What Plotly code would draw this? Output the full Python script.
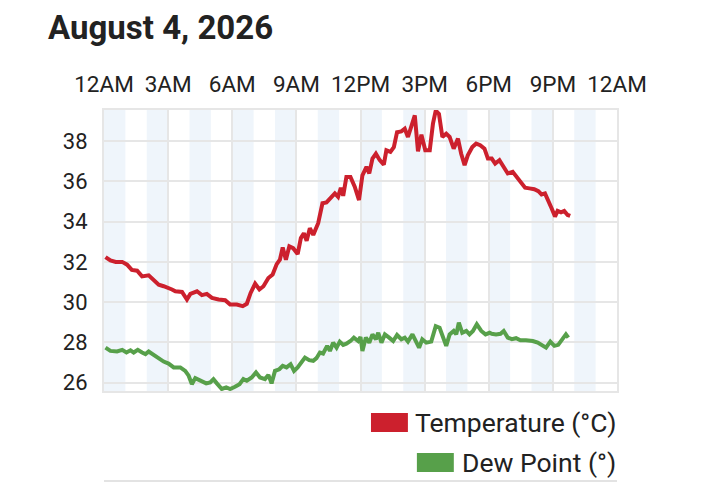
import plotly.graph_objects as go

# hours of the day (0 = midnight) and readings
temp_hours = [0.07, 0.30, 0.55, 0.85, 1.08, 1.30, 1.55, 1.78, 2.09, 2.32, 2.56, 2.79,
              3.02, 3.18, 3.34, 3.65, 3.88, 4.04, 4.35, 4.58, 4.81, 5.05, 5.36, 5.67,
              5.90, 6.21, 6.49, 6.68, 6.86, 7.07, 7.27, 7.46, 7.69, 7.89, 8.08, 8.23,
              8.36, 8.51, 8.67, 8.85, 9.06, 9.21, 9.35, 9.48, 9.63, 9.79, 10.02, 10.22,
              10.41, 10.61, 10.80, 10.95, 11.08, 11.19, 11.34, 11.53, 11.73, 11.93, 12.09,
              12.28, 12.41, 12.56, 12.72, 12.90, 13.09, 13.21, 13.40, 13.56, 13.71, 13.91,
              14.07, 14.22, 14.38, 14.54, 14.69, 14.85, 15.03, 15.24, 15.39, 15.52, 15.67,
              15.83, 16.01, 16.17, 16.36, 16.56, 16.71, 16.87, 17.02, 17.23, 17.41, 17.60,
              17.80, 17.96, 18.14, 18.30, 18.50, 18.70, 18.89, 19.12, 19.32, 19.51, 19.70,
              19.90, 20.13, 20.32, 20.47, 20.63, 20.79, 20.94, 21.10, 21.22, 21.38, 21.53,
              21.69, 21.81]
temperature = [32.24, 32.07, 32.00, 32.00, 31.86, 31.60, 31.56, 31.28, 31.33, 31.12, 30.87, 30.79,
               30.71, 30.63, 30.54, 30.51, 30.13, 30.41, 30.54, 30.35, 30.41, 30.21, 30.13, 30.10,
               29.88, 29.88, 29.80, 29.92, 30.46, 30.92, 30.63, 30.79, 31.20, 31.37, 31.89, 32.11,
               32.72, 32.11, 32.77, 32.68, 32.39, 33.18, 33.42, 33.05, 33.67, 33.34, 33.92, 34.91,
               34.95, 35.15, 35.40, 35.23, 35.68, 35.28, 36.22, 36.22, 35.73, 35.07, 36.30,
               36.72, 36.39, 37.13, 37.37, 37.05, 36.83, 37.54, 37.46, 37.70, 38.44, 38.48,
               38.61, 38.20, 38.77, 39.27, 37.49, 38.31, 37.54, 37.54, 38.86, 39.51, 39.35,
               38.20, 38.36, 38.20, 37.62, 38.12, 37.37, 36.80, 37.29, 37.70, 37.87, 37.79,
               37.62, 37.13, 37.13, 36.88, 37.05, 36.72, 36.39, 36.47, 36.22, 35.94, 35.68,
               35.65, 35.61, 35.51, 35.35, 35.40, 35.07, 34.66, 34.25, 34.53, 34.46, 34.53,
               34.33, 34.28]

dew_hours = [0.07, 0.30, 0.61, 0.85, 1.05, 1.24, 1.39, 1.58, 1.78, 1.94, 2.09, 2.32,
             2.56, 2.79, 3.02, 3.26, 3.57, 3.80, 3.96, 4.11, 4.27, 4.50, 4.78, 4.97,
             5.12, 5.28, 5.51, 5.72, 5.90, 6.13, 6.34, 6.52, 6.68, 6.91, 7.11, 7.30,
             7.53, 7.69, 7.84, 8.00, 8.20, 8.36, 8.54, 8.73, 8.89, 9.06, 9.24, 9.40,
             9.60, 9.79, 9.94, 10.10, 10.25, 10.44, 10.57, 10.72, 10.88, 11.03, 11.19,
             11.34, 11.53, 11.69, 11.89, 12.00, 12.09, 12.25, 12.41, 12.56, 12.72, 12.83,
             12.98, 13.14, 13.34, 13.53, 13.71, 13.91, 14.07, 14.22, 14.43, 14.58, 14.74,
             14.89, 15.08, 15.31, 15.52, 15.70, 15.86, 16.01, 16.17, 16.36, 16.48, 16.60,
             16.76, 16.95, 17.10, 17.26, 17.44, 17.65, 17.85, 18.04, 18.14, 18.34, 18.55,
             18.70, 18.89, 19.08, 19.28, 19.48, 19.74, 20.06, 20.29, 20.47, 20.68, 20.88,
             21.07, 21.25, 21.45, 21.61, 21.72]
dew_point = [27.74, 27.58, 27.55, 27.63, 27.50, 27.61, 27.50, 27.63, 27.50, 27.42, 27.55, 27.38,
             27.22, 27.05, 26.95, 26.76, 26.76, 26.59, 26.35, 25.93, 26.23, 26.10, 25.97, 26.02,
             26.18, 25.97, 25.69, 25.77, 25.69, 25.80, 25.93, 26.18, 26.10, 26.26, 26.51, 26.26,
             26.18, 26.39, 25.97, 26.59, 26.67, 26.84, 26.76, 26.92, 26.59, 26.76, 27.00, 27.25,
             27.12, 27.09, 27.22, 27.50, 27.45, 27.83, 27.58, 27.99, 27.74, 28.04, 27.88,
             27.94, 28.07, 28.24, 28.07, 28.27, 27.58, 28.24, 27.99, 28.40, 28.16, 28.48,
             27.99, 28.40, 28.24, 28.07, 28.37, 28.16, 28.24, 28.04, 28.40, 28.07, 27.74,
             28.16, 27.99, 28.04, 28.81, 28.73, 28.32, 27.83, 28.40, 28.57, 28.40, 28.98,
             28.48, 28.57, 28.40, 28.57, 28.90, 28.57, 28.40, 28.48, 28.43, 28.40, 28.43,
             28.57, 28.24, 28.16, 28.21, 28.11, 28.11, 28.07, 27.99, 27.88, 27.74, 28.04,
             27.83, 27.88, 28.16, 28.40, 28.24]

tick_hours = [0, 3, 6, 9, 12, 15, 18, 21, 24]
tick_labels = ["12AM", "3AM", "6AM", "9AM", "12PM", "3PM", "6PM", "9PM", "12AM"]
y_ticks = [26, 28, 30, 32, 34, 36, 38]

TEMP_COLOR = "#cc202d"
DEW_COLOR = "#57a04a"
BAND_COLOR = "#eff5fb"
GRID_COLOR = "#e6e6e6"
TEXT_COLOR = "#222222"

PAGE_OFF = 8  # the page body adds 8px around the figure

fig = go.Figure()

fig.add_trace(go.Scatter(
    x=temp_hours, y=temperature, mode="lines", name="Temperature (°C)",
    line=dict(color=TEMP_COLOR, width=4), showlegend=False,
))
fig.add_trace(go.Scatter(
    x=dew_hours, y=dew_point, mode="lines", name="Dew Point (°)",
    line=dict(color=DEW_COLOR, width=4), showlegend=False,
))

# alternating hourly bands
for h in range(0, 24, 2):
    fig.add_shape(type="rect", xref="x", yref="paper", x0=h, x1=h + 1, y0=0, y1=1,
                  fillcolor=BAND_COLOR, line_width=0, layer="below")

# --- legend drawn by hand (right aligned, big swatches) ---
W, H = 514, 281  # plot size in px


def px_x(px):
    return (px - 103.5) / W


def px_y(py):
    return (391 - py) / H


legend_rows = [("Temperature (°C)", TEMP_COLOR, 422, 371), ("Dew Point (°)", DEW_COLOR, 462, 417)]
for label, color, cy, sx in legend_rows:
    fig.add_annotation(text=label, xref="paper", yref="paper", x=px_x(619), y=px_y(cy),
                       xanchor="right", yanchor="middle", showarrow=False,
                       font=dict(size=26.5, color=TEXT_COLOR))
    fig.add_shape(type="rect", xref="paper", yref="paper",
                  x0=px_x(sx), x1=px_x(sx + 37), y0=px_y(cy - 9), y1=px_y(cy + 10),
                  fillcolor=color, line_width=0)

# top edge of the next card
fig.add_shape(type="line", xref="paper", yref="paper", x0=0, x1=1,
              y0=px_y(481), y1=px_y(481), line=dict(color="#e3e3e3", width=2))

fig.update_layout(
    width=720, height=483,
    margin=dict(l=103.5 - PAGE_OFF, r=720 - 514 - (103.5 - PAGE_OFF),
                t=110 - PAGE_OFF, b=483 - 281 - (110 - PAGE_OFF)),
    paper_bgcolor="white", plot_bgcolor="white",
    font=dict(family="Roboto", color=TEXT_COLOR),
    title=dict(text="<b>August 4, 2026</b>", x=(48 - PAGE_OFF) / 720, xanchor="left",
               xref="container", y=1 - 8 / 483, yanchor="top", yref="container",
               font=dict(size=33, color=TEXT_COLOR)),
    xaxis=dict(range=[0, 24], side="top", tickvals=tick_hours, ticktext=tick_labels,
               showgrid=True, gridcolor=GRID_COLOR, gridwidth=1.5, zeroline=False,
               showline=True, mirror=True, linecolor=GRID_COLOR, linewidth=2,
               tickfont=dict(size=22.5, color=TEXT_COLOR), ticks="", ticklabelstandoff=7),
    yaxis=dict(range=[25.59, 39.54], tickvals=y_ticks,
               showgrid=True, gridcolor=GRID_COLOR, gridwidth=1.5, zeroline=False,
               showline=True, mirror=True, linecolor=GRID_COLOR, linewidth=2,
               tickfont=dict(size=22, color=TEXT_COLOR), ticks="", ticklabelstandoff=10),
    showlegend=False,
)

fig.write_html("out.html")
